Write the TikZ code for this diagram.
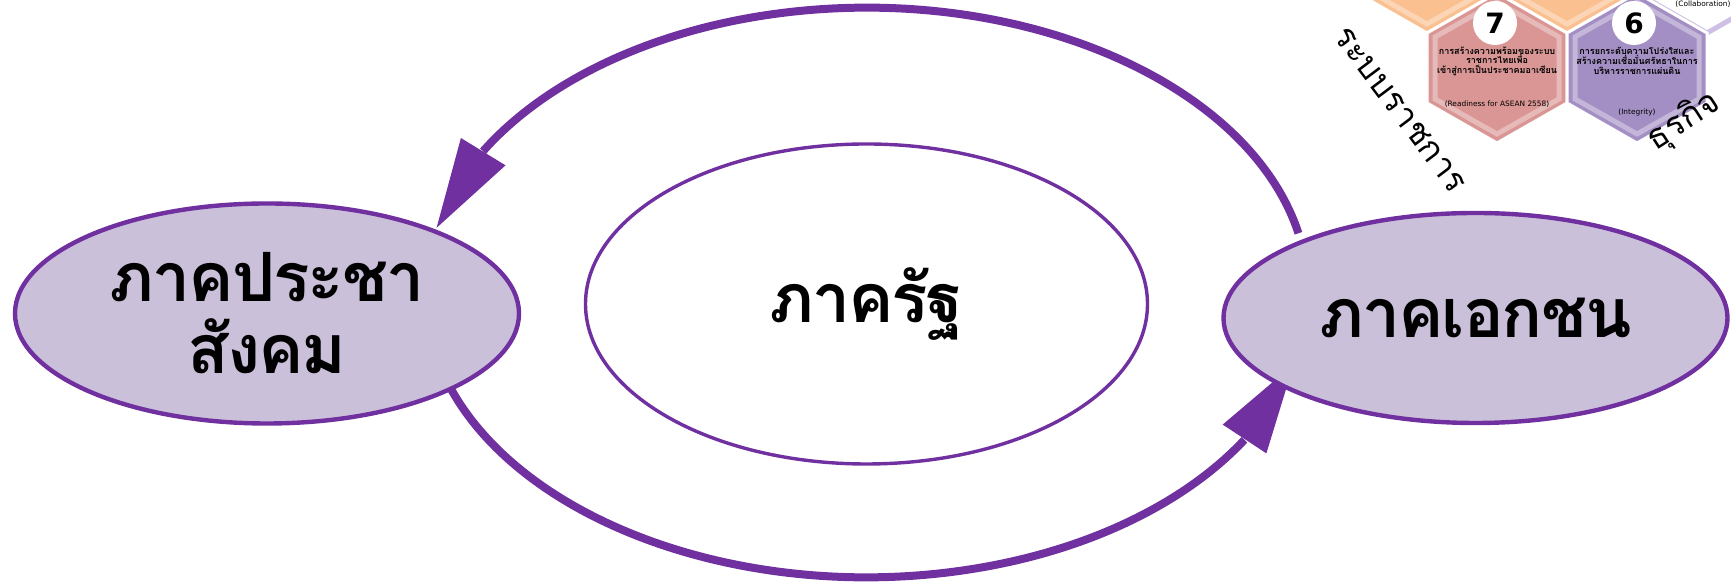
\documentclass[tikz,border=0pt]{standalone}
\usepackage{fontspec}
\setmainfont{DejaVu Sans}
\newfontfamily\thaifont[Script=Thai]{Loma}
\newfontfamily\thaiheavy[Script=Thai,LetterSpace=-3]{Loma}
\usetikzlibrary{arrows.meta,bending,shapes.geometric,calc}

\definecolor{loopviolet}{RGB}{112,48,160}
\definecolor{lavender}{RGB}{203,192,218}
\definecolor{hexpink}{RGB}{217,150,148}
\definecolor{hexviolet}{RGB}{163,143,196}
\definecolor{hexorange}{RGB}{250,192,144}
\definecolor{hexrim}{RGB}{205,192,228}

\newcommand{\hexcell}[3]{%
  \filldraw[fill=#3,draw=white,line width=1.5pt]
    (#1+70,#2+35) -- (#1,#2+75) -- (#1-70,#2+35) -- (#1-70,#2-35) -- (#1,#2-75) -- (#1+70,#2-35) -- cycle;
  \draw[white,opacity=0.35,line width=2.5pt]
    (#1+62,#2+31) -- (#1,#2+66) -- (#1-62,#2+31) -- (#1-62,#2-31) -- (#1,#2-66) -- (#1+62,#2-31) -- cycle;}

\begin{document}
\begin{tikzpicture}[x=0.5pt,y=0.5pt,
  sector/.style={ellipse,draw=loopviolet,line width=2.2pt,fill=lavender,inner sep=0pt,
    align=center,font=\thaiheavy\bfseries\fontsize{34}{36}\selectfont},
  cycle/.style={draw=loopviolet,line width=4pt,-{Triangle[length=45pt,width=25pt]}},
  numdot/.style={circle,fill=white,inner sep=0pt,minimum size=22pt,font=\bfseries\fontsize{14}{14}\selectfont},
  hextext/.style={align=center,font=\thaifont\bfseries\fontsize{4.5}{4.8}\selectfont},
  hexnote/.style={font=\fontsize{3.7}{4}\selectfont},
  ringtext/.style={font=\thaifont\fontsize{17}{17}\selectfont}]
\useasboundingbox (0,0) rectangle (1731,582);

\begin{scope}
\clip (1335,382) rectangle (1731,582);
\hexcell{1427}{624}{hexorange}
\hexcell{1567}{624}{hexorange}
\filldraw[fill=white,draw=hexrim,line width=2.5pt]
  (1777,659) -- (1707,699) -- (1637,659) -- (1637,589) -- (1707,549) -- (1777,589) -- cycle;
\hexcell{1497}{514}{hexpink}
\hexcell{1637}{514}{hexviolet}
\node[numdot] (seven) at (1495,559) {7};
\node[numdot] (six) at (1634,559) {6};
\node[hextext] (asean) at (1497,521) {การสร้างความพร้อมของระบบ\\ราชการไทยเพื่อ\\เข้าสู่การเป็นประชาคมอาเซียน};
\node[hexnote] (asean-en) at (1497,478) {(Readiness for ASEAN 2558)};
\node[hextext] (integ) at (1637,521) {การยกระดับความโปร่งใสและ\\สร้างความเชื่อมั่นศรัทธาในการ\\บริหารราชการแผ่นดิน};
\node[hexnote] (integ-en) at (1637,470) {(Integrity)};
\node[hexnote] (collab-en) at (1703,578) {(Collaboration)};
\node[ringtext,rotate=-53] (ring-left) at (1400,472) {ระบบราชการ};
\node[ringtext,rotate=33,anchor=base west] (ring-right) at (1650,427) {ธุรกิจ};
\end{scope}

\coordinate (hub) at (866.5,289.5);
\coordinate (top-from) at ($(hub)+(12:441.6 and 284.8)$);
\coordinate (low-from) at ($(hub)+(195:441.6 and 284.8)$);
\draw[cycle] (top-from) arc[start angle=12,end angle=167,x radius=441.6,y radius=284.8];
\draw[cycle] (low-from) arc[start angle=195,end angle=345.5,x radius=441.6,y radius=284.8];

\node[sector,minimum width=252pt,minimum height=110pt] (civil) at (267,268.5) {ภาคประชา\\สังคม};
\node[sector,fill=white,line width=1.7pt,minimum width=281pt,minimum height=160pt] (state) at (866.5,278) {ภาครัฐ};
\node[sector,minimum width=252pt,minimum height=105pt] (private) at (1475.5,264) {ภาคเอกชน};
\end{tikzpicture}
\end{document}
